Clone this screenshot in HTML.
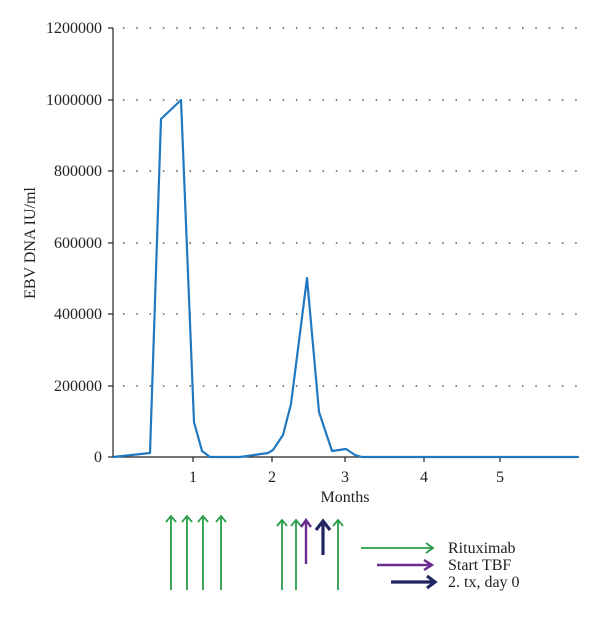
<!DOCTYPE html><html><head><style>body{margin:0;background:#fff}</style></head><body>
<svg width="600" height="613" xmlns="http://www.w3.org/2000/svg" font-family="Liberation Serif, serif" fill="#222">
<g stroke="#555" stroke-width="1.4" stroke-dasharray="1.5,11.8">
<line x1="123" y1="28" x2="580" y2="28"/><line x1="123" y1="100" x2="580" y2="100"/><line x1="123" y1="171" x2="580" y2="171"/><line x1="123" y1="243" x2="580" y2="243"/><line x1="123" y1="314" x2="580" y2="314"/><line x1="123" y1="386" x2="580" y2="386"/>
</g>
<g stroke="#222" stroke-width="1.2">
<line x1="113" y1="28" x2="113" y2="457"/><line x1="113" y1="457" x2="579" y2="457"/>
<line x1="108" y1="28" x2="113" y2="28"/><line x1="108" y1="100" x2="113" y2="100"/><line x1="108" y1="171" x2="113" y2="171"/><line x1="108" y1="243" x2="113" y2="243"/><line x1="108" y1="314" x2="113" y2="314"/><line x1="108" y1="386" x2="113" y2="386"/><line x1="108" y1="457" x2="113" y2="457"/>
<line x1="193" y1="457" x2="193" y2="462"/><line x1="272" y1="457" x2="272" y2="462"/><line x1="345" y1="457" x2="345" y2="462"/><line x1="424" y1="457" x2="424" y2="462"/><line x1="500" y1="457" x2="500" y2="462"/>
</g>
<g font-size="16" text-anchor="end">
<text x="102" y="33">1200000</text><text x="102" y="105">1000000</text><text x="102" y="176">800000</text><text x="102" y="248">600000</text><text x="102" y="319">400000</text><text x="102" y="391">200000</text><text x="102" y="462">0</text>
</g>
<g font-size="16" text-anchor="middle">
<text x="193" y="482">1</text><text x="272" y="482">2</text><text x="345" y="482">3</text><text x="424" y="482">4</text><text x="500" y="482">5</text>
<text x="345" y="502">Months</text>
<text transform="translate(35,243) rotate(-90)">EBV DNA IU/ml</text>
</g>
<polyline fill="none" stroke="#1f78c0" stroke-width="2.2" stroke-linejoin="round" points="113,457 150,453 161,119 181,100 194,422 202,451 210,457 240,457 268,453 273,450 283,435 291,404 307,278 319,412 332,451 346,449 355,455 362,457 578,457"/>
<g stroke="#2a9d4a" stroke-width="1.8" fill="none">
<path d="M171,590V517M166,522L171,516L176,522M187,590V517M182,522L187,516L192,522M203,590V517M198,522L203,516L208,522M221,590V517M216,522L221,516L226,522"/>
<path d="M282,590V521M277,526L282,520L287,526M296,590V521M291,526L296,520L301,526M338,590V521M333,526L338,520L343,526"/>
<path d="M361,548H432M426,543L433,548L426,553"/>
</g>
<g stroke="#6a2c91" stroke-width="2.4" fill="none">
<path d="M306,564V521M301,527L306,520L311,527"/>
<path d="M377,565H431M424,560L432,565L424,570"/>
</g>
<g stroke="#1e2561" stroke-width="3.2" fill="none">
<path d="M323,555V522M316,530L323,521L330,530"/>
<path d="M391,582H435M427,576L435,582L427,588"/>
</g>
<g font-size="16">
<text x="448" y="553">Rituximab</text><text x="448" y="570">Start TBF</text><text x="448" y="587">2. tx, day 0</text>
</g>
</svg>
</body></html>
